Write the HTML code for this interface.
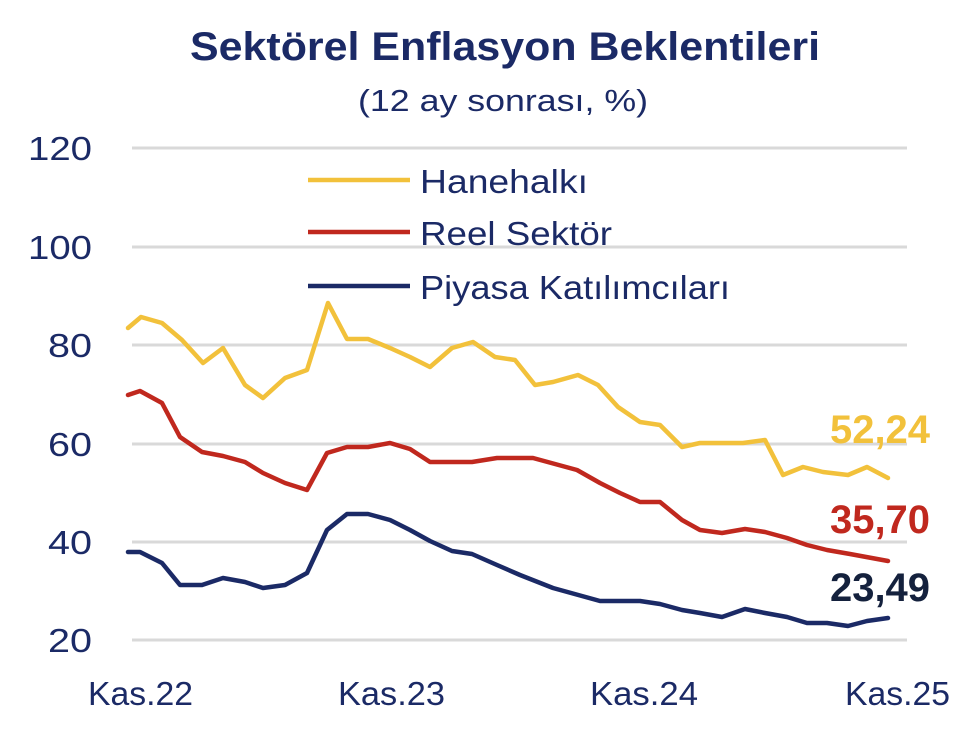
<!DOCTYPE html>
<html><head><meta charset="utf-8"><style>
html,body{margin:0;padding:0;background:#fff;}
svg{display:block;font-family:"Liberation Sans",sans-serif;}
</style></head><body>
<svg width="960" height="732" viewBox="0 0 960 732" xmlns="http://www.w3.org/2000/svg">
<text x="190" y="60" font-size="40" font-weight="bold" fill="#1b2a66" textLength="630" lengthAdjust="spacingAndGlyphs">Sektörel Enflasyon Beklentileri</text>
<text x="358" y="111" font-size="31" fill="#1b2a66" textLength="290" lengthAdjust="spacingAndGlyphs">(12 ay sonrası, %)</text>
<g stroke="#d9d9d9" stroke-width="3">
<line x1="132" y1="148" x2="907" y2="148"/>
<line x1="132" y1="247" x2="907" y2="247"/>
<line x1="132" y1="345" x2="907" y2="345"/>
<line x1="132" y1="444" x2="907" y2="444"/>
<line x1="132" y1="542" x2="907" y2="542"/>
<line x1="132" y1="640" x2="907" y2="640"/>
</g>
<g font-size="33" fill="#1b2a66">
<text x="28" y="160" textLength="64" lengthAdjust="spacingAndGlyphs">120</text>
<text x="28" y="259" textLength="64" lengthAdjust="spacingAndGlyphs">100</text>
<text x="48" y="357" textLength="44" lengthAdjust="spacingAndGlyphs">80</text>
<text x="48" y="456" textLength="44" lengthAdjust="spacingAndGlyphs">60</text>
<text x="48" y="554" textLength="44" lengthAdjust="spacingAndGlyphs">40</text>
<text x="48" y="652" textLength="44" lengthAdjust="spacingAndGlyphs">20</text>
</g>
<g font-size="33" fill="#1b2a66">
<text x="88" y="705" textLength="105" lengthAdjust="spacingAndGlyphs">Kas.22</text>
<text x="338" y="705" textLength="107" lengthAdjust="spacingAndGlyphs">Kas.23</text>
<text x="590" y="705" textLength="108" lengthAdjust="spacingAndGlyphs">Kas.24</text>
<text x="845" y="705" textLength="105" lengthAdjust="spacingAndGlyphs">Kas.25</text>
</g>
<g stroke-width="4.5">
<line x1="308" y1="180" x2="410" y2="180" stroke="#f2c13b"/>
<line x1="308" y1="232" x2="410" y2="232" stroke="#c0281e"/>
<line x1="308" y1="286" x2="410" y2="286" stroke="#1b2a66"/>
</g>
<g font-size="33" fill="#1b2a66">
<text x="420" y="193" textLength="168" lengthAdjust="spacingAndGlyphs">Hanehalkı</text>
<text x="420" y="245" textLength="192" lengthAdjust="spacingAndGlyphs">Reel Sektör</text>
<text x="420" y="299" textLength="310" lengthAdjust="spacingAndGlyphs">Piyasa Katılımcıları</text>
</g>
<g fill="none" stroke-width="4.5" stroke-linejoin="round" stroke-linecap="round">
<polyline stroke="#f2c13b" points="128,328 141,317 162,323 182,340 203,363 223,348 245,385 263,398 285,378 307,370 328,303 347,339 368,339 390,348 410,357 430,367 452,348 473,342 495,357 515,360 535,385 553,382 578,375 598,385 618,407 640,422 660,425 682,447 700,443 743,443 765,440 783,475 803,467 823,472 848,475 867,467 888,478"/>
<polyline stroke="#c0281e" points="128,395 140,391 162,403 180,437 202,452 223,456 245,462 263,473 285,483 307,490 327,453 347,447 368,447 390,443 410,449 430,462 472,462 497,458 533,458 577,470 600,483 620,493 640,502 660,502 682,520 700,530 722,533 745,529 765,532 787,538 807,545 827,550 850,554 888,561"/>
<polyline stroke="#1b2a66" points="128,552 140,552 162,563 180,585 202,585 223,578 245,582 263,588 285,585 307,573 327,530 347,514 368,514 390,520 410,530 430,541 452,551 472,554 497,565 520,575 553,588 600,601 640,601 660,604 682,610 700,613 722,617 745,609 765,613 787,617 807,623 827,623 848,626 867,621 888,618"/>
</g>
<g font-size="40" font-weight="bold">
<text x="830" y="443" fill="#f2c13b" textLength="100" lengthAdjust="spacingAndGlyphs">52,24</text>
<text x="830" y="533" fill="#c0281e" textLength="100" lengthAdjust="spacingAndGlyphs">35,70</text>
<text x="830" y="601" fill="#14213d" textLength="100" lengthAdjust="spacingAndGlyphs">23,49</text>
</g>
</svg>
</body></html>
